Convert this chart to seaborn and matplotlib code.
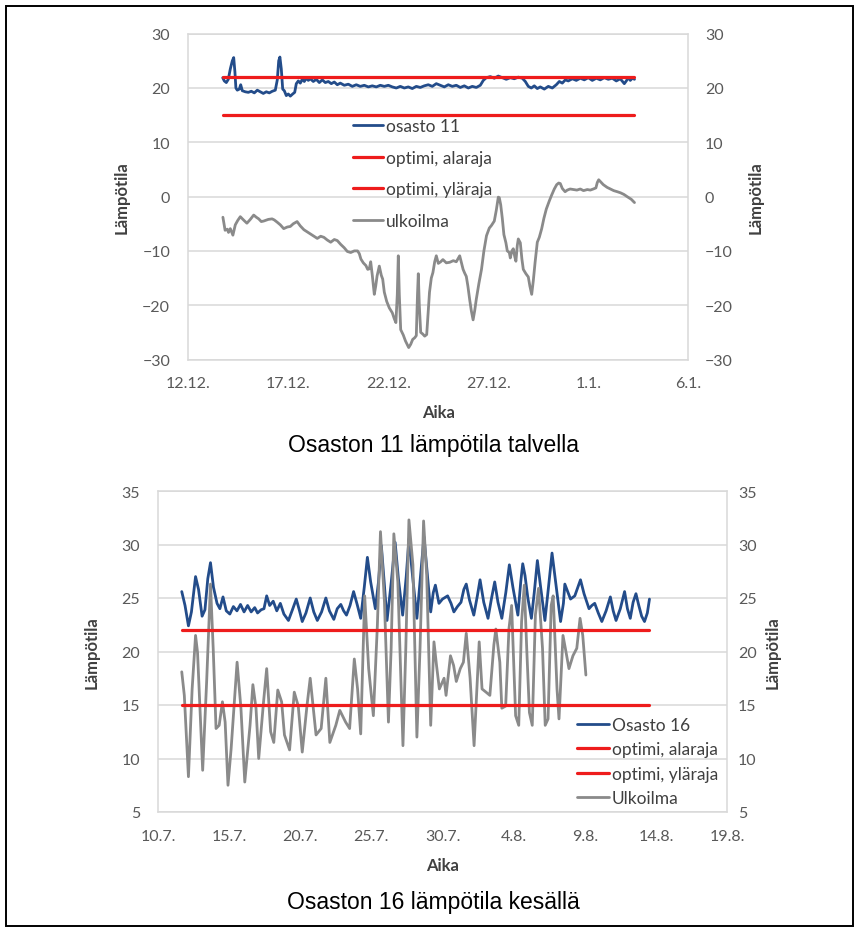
import numpy as np
import pandas as pd
import matplotlib
matplotlib.use("Agg")
import matplotlib.pyplot as plt
import seaborn as sns
from matplotlib.patches import Rectangle

# ---------------- Winter chart (x = days since 12.12.) ----------------
w_xticks = [0, 5, 10, 15, 20, 25]
w_xticklabels = ["12.12.", "17.12.", "22.12.", "27.12.", "1.1.", "6.1."]
w_yticks = [-30, -20, -10, 0, 10, 20, 30]

w_in_day = [1.72, 1.80, 1.90, 2.00, 2.10, 2.20, 2.27, 2.33, 2.38, 2.45, 2.55, 2.62, 2.70, 2.85,
            3.00, 3.15, 3.30, 3.45, 3.60, 3.75, 3.90, 4.05, 4.20, 4.35, 4.45, 4.52, 4.58, 4.65,
            4.72, 4.80, 4.90, 5.00, 5.10, 5.22, 5.32, 5.40, 5.50, 5.60, 5.70, 5.80, 5.90, 6.00,
            6.10, 6.25, 6.40, 6.55, 6.70, 6.85, 7.00, 7.15, 7.30, 7.45, 7.60, 7.80, 8.00, 8.20,
            8.40, 8.60, 8.80, 9.00, 9.20, 9.40, 9.60, 9.80, 10.00, 10.20, 10.40, 10.60, 10.80,
            11.00, 11.20, 11.40, 11.60, 11.80, 12.00, 12.20, 12.40, 12.60, 12.80, 13.00, 13.20,
            13.40, 13.60, 13.80, 14.00, 14.20, 14.40, 14.60, 14.75, 14.90, 15.10, 15.30, 15.50,
            15.70, 15.90, 16.10, 16.30, 16.50, 16.70, 16.85, 17.00, 17.15, 17.30, 17.45, 17.60,
            17.80, 18.00, 18.20, 18.40, 18.55, 18.70, 18.85, 19.00, 19.20, 19.40, 19.60, 19.80,
            20.00, 20.20, 20.40, 20.60, 20.80, 21.00, 21.20, 21.40, 21.60, 21.80, 21.90, 22.00,
            22.10, 22.20, 22.31]
w_in_temp = [21.9, 21.3, 21.0, 21.6, 23.5, 25.0, 25.6, 23.0, 20.0, 19.6, 19.8, 20.6, 19.5, 19.3,
             19.2, 19.4, 19.1, 19.6, 19.3, 19.0, 19.3, 19.1, 19.4, 19.6, 21.5, 25.0, 25.7, 23.5,
             19.8, 19.5, 18.6, 18.9, 18.5, 18.9, 19.2, 20.8, 21.3, 20.9, 21.6, 21.2, 21.8, 21.4,
             21.7, 21.2, 21.6, 21.0, 21.5, 21.0, 21.2, 20.8, 21.1, 20.6, 20.9, 20.5, 20.7, 20.3,
             20.6, 20.3, 20.5, 20.2, 20.4, 20.2, 20.5, 20.3, 20.5, 20.2, 20.0, 20.3, 20.0,
             20.2, 19.9, 20.3, 20.1, 20.4, 20.6, 20.3, 20.8, 20.5, 20.2, 20.6, 20.3,
             20.5, 20.1, 20.4, 20.0, 20.3, 20.1, 20.5, 21.4, 21.9, 22.1, 21.8, 22.2,
             21.9, 21.6, 21.9, 21.7, 22.0, 21.8, 21.2, 20.3, 20.0, 20.4, 19.9, 20.2,
             19.8, 20.3, 20.0, 20.6, 21.2, 20.9, 21.5, 21.3, 21.7, 21.4, 21.8, 21.5,
             21.9, 21.4, 21.8, 21.5, 21.9, 21.6, 21.8, 21.3, 21.7, 20.8, 21.3, 21.9,
             21.4, 21.8, 21.6]

w_out_day = [1.73, 1.84, 1.95, 2.01, 2.10, 2.23, 2.35, 2.47, 2.60, 2.76, 2.93, 3.10, 3.27, 3.40,
             3.52, 3.65, 3.77, 4.00, 4.19, 4.30, 4.44, 4.60, 4.77, 4.95, 5.10, 5.25, 5.44, 5.60,
             5.78, 5.95, 6.11, 6.30, 6.45, 6.62, 6.78, 6.95, 7.12, 7.30, 7.45, 7.62, 7.79, 7.95,
             8.12, 8.30, 8.46, 8.55, 8.63, 8.75, 8.88, 8.97, 9.05, 9.12, 9.20, 9.30, 9.37, 9.44,
             9.55, 9.65, 9.72, 9.80, 9.92, 10.05, 10.20, 10.30, 10.38, 10.45, 10.50, 10.55, 10.62,
             10.75, 10.86, 10.95, 11.02, 11.12, 11.22, 11.32, 11.40, 11.46, 11.50, 11.55, 11.62,
             11.72, 11.82, 11.92, 12.00, 12.06, 12.15, 12.23, 12.32, 12.40, 12.50, 12.62, 12.73,
             12.90, 13.07, 13.25, 13.40, 13.57, 13.66, 13.74, 13.82, 13.90, 13.98, 14.07, 14.15,
             14.24, 14.32, 14.40, 14.53, 14.66, 14.78, 14.91, 15.05, 15.16, 15.30, 15.40, 15.50,
             15.55, 15.62, 15.70, 15.78, 15.88, 15.95, 16.05, 16.10, 16.18, 16.25, 16.32, 16.38,
             16.45, 16.50, 16.60, 16.68, 16.75, 16.88, 17.00, 17.08, 17.17, 17.25, 17.34, 17.45,
             17.55, 17.67, 17.78, 17.90, 18.05, 18.17, 18.30, 18.42, 18.52, 18.60, 18.70, 18.84,
             18.95, 19.09, 19.25, 19.43, 19.60, 19.76, 19.95, 20.10, 20.25, 20.38, 20.45, 20.52,
             20.62, 20.75, 20.94, 21.10, 21.27, 21.45, 21.61, 21.78, 21.94, 22.15, 22.31]
w_out_temp = [-3.8, -6.2, -6.0, -6.6, -5.9, -7.1, -5.2, -4.4, -3.7, -4.3, -4.9, -4.2, -3.4, -3.8,
              -4.1, -4.6, -4.5, -4.2, -4.1, -4.3, -4.7, -5.2, -5.9, -5.6, -5.5, -5.0, -4.6, -5.4,
              -6.1, -6.5, -6.9, -7.3, -7.7, -7.3, -7.5, -8.0, -8.4, -7.9, -8.1, -8.8, -9.4, -10.1,
              -10.3, -10.0, -10.0, -10.5, -11.5, -12.2, -12.7, -13.4, -13.3, -12.0, -14.5, -18.0, -16.5, -14.6,
              -12.8, -14.5, -15.2, -17.6, -19.3, -20.5, -21.4, -22.5, -23.2, -18.0, -10.9, -18.0, -24.5,
              -25.5, -26.6, -27.3, -27.8, -27.2, -26.3, -26.0, -25.6, -18.0, -14.2, -20.0, -25.0,
              -25.3, -25.7, -25.4, -21.0, -17.6, -15.0, -14.0, -12.0, -10.9, -12.3, -12.0, -11.6,
              -12.2, -12.1, -11.8, -12.0, -10.9, -12.2, -13.4, -14.1, -14.7, -16.5, -19.0, -21.0,
              -22.7, -21.0, -18.9, -16.0, -13.4, -10.0, -7.2, -5.8, -5.3, -4.5, -2.5, -0.1,
              -0.2, -1.5, -4.0, -7.0, -8.5, -10.0, -10.3, -11.3, -10.0, -9.6, -11.0, -11.9,
              -9.0, -7.8, -8.5, -11.5, -13.4, -14.2, -14.8, -16.5, -18.0, -15.5, -12.1, -8.4,
              -7.5, -5.9, -4.0, -2.3, -0.8, 0.3, 1.4, 2.2, 2.5, 2.4, 1.5, 0.9,
              1.2, 1.4, 1.3, 1.2, 1.4, 1.1, 1.3, 1.2, 1.4, 1.6, 2.6, 3.1,
              2.7, 2.2, 1.7, 1.4, 1.1, 0.9, 0.7, 0.4, 0.0, -0.5, -1.1]

w_limit_days = [1.72, 22.31]

# ---------------- Summer chart (x = days since 10.7.) ----------------
s_xticks = [0, 5, 10, 15, 20, 25, 30, 35, 40]
s_xticklabels = ["10.7.", "15.7.", "20.7.", "25.7.", "30.7.", "4.8.", "9.8.", "14.8.", "19.8."]
s_yticks = [5, 10, 15, 20, 25, 30, 35]

s_in_day = [1.67, 1.90, 2.14, 2.35, 2.64, 2.85, 3.10, 3.30, 3.50, 3.69, 3.90, 4.15, 4.35, 4.57,
            4.80, 5.05, 5.30, 5.55, 5.80, 6.05, 6.30, 6.55, 6.80, 7.00, 7.25, 7.45, 7.64, 7.85,
            8.10, 8.35, 8.60, 8.85, 9.17, 9.45, 9.72, 9.95, 10.14, 10.40, 10.70, 10.95, 11.20,
            11.50, 11.80, 12.05, 12.36, 12.60, 12.85, 13.05, 13.25, 13.50, 13.75, 14.00, 14.25,
            14.50, 14.72, 14.95, 15.28, 15.50, 15.70, 15.90, 16.10, 16.40, 16.67, 16.90, 17.20,
            17.45, 17.64, 17.90, 18.20, 18.45, 18.70, 18.95, 19.17, 19.35, 19.50, 19.75, 20.00,
            20.36, 20.60, 20.80, 21.05, 21.30, 21.50, 21.67, 21.90, 22.20, 22.45, 22.64, 22.90,
            23.20, 23.45, 23.67, 23.90, 24.17, 24.45, 24.70, 24.95, 25.30, 25.50, 25.64, 25.80,
            26.00, 26.25, 26.45, 26.67, 26.90, 27.20, 27.45, 27.70, 27.95, 28.30, 28.50, 28.60,
            28.80, 29.00, 29.30, 29.70, 29.95, 30.30, 30.50, 30.70, 30.95, 31.20, 31.50, 31.80,
            32.00, 32.20, 32.50, 32.80, 33.00, 33.20, 33.40, 33.60, 33.80, 34.00, 34.20, 34.40,
            34.55]
s_in_temp = [25.6, 24.3, 22.4, 23.7, 27.0, 25.8, 23.3, 23.9, 26.8, 28.3, 26.0, 24.5, 24.0, 25.1,
             23.8, 23.5, 24.2, 23.8, 24.4, 23.7, 24.3, 23.7, 24.1, 23.6, 23.9, 24.0, 25.2, 24.3,
             24.7, 23.8, 24.5, 23.5, 22.9, 23.9, 24.9, 23.8, 22.8, 23.6, 25.0, 23.7, 22.9,
             23.7, 25.0, 23.8, 23.0, 24.0, 24.4, 23.8, 23.4, 24.3, 25.6, 24.4, 23.1,
             26.0, 28.8, 26.5, 24.0, 26.5, 29.9, 26.5, 22.9, 26.5, 30.2, 26.8, 23.4,
             27.0, 30.5, 27.0, 23.1, 27.0, 30.7, 27.0, 23.7, 25.5, 26.2, 24.5, 24.9,
             25.2, 24.5, 23.7, 24.2, 24.6, 25.8, 26.3, 24.8, 23.4, 25.2, 26.7, 24.6,
             23.1, 25.0, 26.5, 24.6, 23.1, 25.5, 28.1, 26.0, 23.4, 26.5, 28.2, 27.1,
             25.0, 23.1, 25.5, 28.5, 26.0, 22.9, 26.0, 29.2, 26.5, 22.8, 24.5, 26.3,
             25.6, 24.9, 25.2, 26.7, 25.4, 24.0, 24.3, 24.5, 23.6, 22.8, 23.8, 25.1,
             23.8, 22.9, 24.0, 25.6, 24.0, 23.1, 24.6, 25.4, 24.3, 23.3, 22.8, 23.6,
             24.9]

s_out_day = [1.67, 1.85, 2.14, 2.40, 2.64, 2.78, 2.92, 3.14, 3.42, 3.69, 3.88, 4.08, 4.30, 4.53,
             4.72, 4.92, 5.14, 5.56, 5.83, 6.10, 6.47, 6.67, 6.89, 7.08, 7.42, 7.64, 7.92, 8.14,
             8.42, 8.69, 8.89, 9.25, 9.58, 9.86, 10.14, 10.47, 10.70, 11.11, 11.47, 11.80, 12.08,
             12.50, 12.78, 13.19, 13.47, 13.80, 14.03, 14.25, 14.53, 14.81, 15.14, 15.42, 15.64,
             15.92, 16.20, 16.39, 16.58, 16.86, 17.22, 17.42, 17.64, 17.92, 18.20, 18.42, 18.67,
             18.89, 19.17, 19.40, 19.58, 19.78, 20.11, 20.25, 20.56, 20.78, 20.97, 21.25, 21.47,
             21.67, 21.94, 22.22, 22.58, 22.78, 23.06, 23.33, 23.61, 23.75, 24.03, 24.17, 24.44,
             24.67, 24.86, 25.14, 25.36, 25.56, 25.75, 25.92, 26.11, 26.31, 26.53, 26.75, 27.03,
             27.22, 27.42, 27.64, 27.78, 28.05, 28.19, 28.47, 28.69, 28.89, 29.17, 29.44, 29.67,
             29.86, 30.08]
s_out_temp = [18.1, 15.9, 8.3, 16.5, 21.5, 19.9, 15.6, 8.9, 17.2, 26.3, 20.3, 12.8, 13.1, 15.3,
              13.4, 7.5, 10.9, 19.0, 14.7, 7.8, 13.1, 16.9, 14.7, 10.0, 15.3, 18.4, 12.5, 11.5,
              16.4, 15.3, 12.2, 10.8, 16.2, 14.9, 10.6, 14.9, 17.5, 12.2, 12.8, 17.5, 11.5,
              13.1, 14.5, 13.4, 12.8, 19.3, 16.5, 12.3, 25.2, 18.4, 14.0, 22.4, 31.2,
              24.6, 13.4, 20.3, 31.0, 26.5, 11.2, 20.3, 32.3, 28.1, 12.0, 20.3, 32.2,
              27.1, 13.1, 20.9, 18.7, 16.5, 17.5, 15.9, 19.6, 18.7, 17.2, 18.4, 19.0,
              21.7, 17.5, 11.2, 20.9, 16.5, 16.2, 15.9, 20.6, 22.1, 19.0, 14.7, 14.9,
              22.1, 24.3, 14.0, 13.1, 22.8, 26.2, 20.3, 14.3, 13.1, 23.4, 25.9, 20.3,
              13.1, 13.7, 24.3, 25.2, 16.5, 13.7, 21.5, 19.9, 18.4, 19.6, 20.3, 23.1,
              21.5, 17.8]

s_limit_days = [1.67, 34.55]

limit_low = 15    # optimi, alaraja
limit_high = 22   # optimi, yläraja

# ---------------- style ----------------
BLUE = "#234C8A"
RED = "#EE1C1C"
GRAY = "#8A8A8A"
GRID = "#D9D9D9"
TICKC = "#595959"
TEXTC = "#404040"

sns.set_theme(style="white")
plt.rcParams["font.family"] = ["Lato", "DejaVu Sans"]

W, H = 867, 929
fig = plt.figure(figsize=(W / 100, H / 100), dpi=100)


def px_axes(x0, x1, y0, y1):
    return fig.add_axes([x0 / W, 1 - y1 / H, (x1 - x0) / W, (y1 - y0) / H])


def draw_chart(ax, in_day, in_temp, in_label, out_day, out_temp, out_label, lim_days,
               xticks, xticklabels, yticks, xlim, ylim):
    df_in = pd.DataFrame({"day": in_day, "temp": in_temp})
    df_out = pd.DataFrame({"day": out_day, "temp": out_temp})
    df_low = pd.DataFrame({"day": lim_days, "temp": [limit_low] * len(lim_days)})
    df_high = pd.DataFrame({"day": lim_days, "temp": [limit_high] * len(lim_days)})

    sns.lineplot(data=df_in, x="day", y="temp", ax=ax, color=BLUE, linewidth=2.0,
                 label=in_label, zorder=3, legend=False)
    sns.lineplot(data=df_low, x="day", y="temp", ax=ax, color=RED, linewidth=2.3,
                 label="optimi, alaraja", zorder=5, legend=False)
    sns.lineplot(data=df_high, x="day", y="temp", ax=ax, color=RED, linewidth=2.3,
                 label="optimi, yläraja", zorder=5, legend=False)
    sns.lineplot(data=df_out, x="day", y="temp", ax=ax, color=GRAY, linewidth=2.0,
                 label=out_label, zorder=4, legend=False)

    ax.set_xlim(*xlim)
    ax.set_ylim(*ylim)
    ax.set_xticks(xticks)
    ax.set_xticklabels(xticklabels)
    ax.set_yticks(yticks)
    ax.grid(axis="y", color=GRID, linewidth=1.1, zorder=0)
    ax.grid(axis="x", visible=False)
    for s in ax.spines.values():
        s.set_color(GRID)
        s.set_linewidth(1.1)
    ax.tick_params(length=0, labelsize=11.5, labelcolor=TICKC)
    ax.set_facecolor("white")

    ax2 = ax.twinx()
    ax2.set_ylim(*ylim)
    ax2.set_yticks(yticks)
    ax2.tick_params(length=0, labelsize=11.5, labelcolor=TICKC)
    for s in ax2.spines.values():
        s.set_visible(False)
    return ax2


def place_legend(ax, x_px, first_px, spacing_px, fontsize, handlelength):
    """Frameless legend whose rows are centred at first_px, first_px + spacing_px, ..."""
    h, l = ax.get_legend_handles_labels()
    fs_px = fontsize * 100 / 72
    ls = 0.5
    top = first_px - 10
    for _ in range(4):
        leg = ax.legend(h, l, loc="upper left", bbox_to_anchor=(x_px / W, 1 - top / H),
                        bbox_transform=fig.transFigure, frameon=False, fontsize=fontsize,
                        labelspacing=ls, handlelength=handlelength, handletextpad=0.15,
                        borderpad=0, borderaxespad=0, labelcolor=TEXTC)
        fig.canvas.draw()
        cy = [H - 0.5 * (t.get_window_extent().y0 + t.get_window_extent().y1)
              for t in leg.get_texts()]
        meas = (cy[-1] - cy[0]) / (len(cy) - 1)
        ls += (spacing_px - meas) / fs_px
        top += first_px - cy[0]
    return leg


# ---------- top chart ----------
ax_w = px_axes(188.3, 688.3, 34.7, 360.5)
ax_w2 = draw_chart(ax_w, w_in_day, w_in_temp, "osasto 11", w_out_day, w_out_temp, "ulkoilma",
                   w_limit_days, w_xticks, w_xticklabels, w_yticks, (0, 25), (-30, 30))
ax_w.tick_params(axis="y", pad=13)
ax_w.tick_params(axis="x", pad=12)
ax_w2.tick_params(axis="y", pad=12)
ax_w.set_xlabel("Aika", fontsize=12, fontweight="bold", color=TEXTC)
ax_w.set_ylabel("Lämpötila", fontsize=12, fontweight="bold", color=TEXTC)
ax_w2.set_ylabel("Lämpötila", fontsize=12, fontweight="bold", color=TEXTC, rotation=90)
ax_w.xaxis.set_label_coords(0.5, -0.136)
ax_w.yaxis.set_label_coords(-0.117, 0.5)
ax_w2.yaxis.set_label_coords(1.119, 0.5)

# ---------- bottom chart ----------
ax_s = px_axes(158, 727, 492, 813)
ax_s2 = draw_chart(ax_s, s_in_day, s_in_temp, "Osasto 16", s_out_day, s_out_temp, "Ulkoilma",
                   s_limit_days, s_xticks, s_xticklabels, s_yticks, (0, 40), (5, 35))
ax_s.tick_params(axis="y", pad=13)
ax_s.tick_params(axis="x", pad=12)
ax_s2.tick_params(axis="y", pad=8)
ax_s.set_xlabel("Aika", fontsize=12, fontweight="bold", color=TEXTC)
ax_s.set_ylabel("Lämpötila", fontsize=12, fontweight="bold", color=TEXTC)
ax_s2.set_ylabel("Lämpötila", fontsize=12, fontweight="bold", color=TEXTC, rotation=90)
ax_s.xaxis.set_label_coords(0.5, -0.14)
ax_s.yaxis.set_label_coords(-0.102, 0.5)
ax_s2.yaxis.set_label_coords(1.066, 0.5)

# ---------- captions & frame ----------
fig.text(433 / W, 1 - 446 / H, "Osaston 11 lämpötila talvella", ha="center", va="center",
         fontsize=16.5, family=["Liberation Sans", "DejaVu Sans"], color="black")
fig.text(433 / W, 1 - 903 / H, "Osaston 16 lämpötila kesällä", ha="center", va="center",
         fontsize=16.5, family=["Liberation Sans", "DejaVu Sans"], color="black")
fig.patches.append(Rectangle((6 / W, 1 - 927 / H), (853 - 6) / W, (927 - 7) / H,
                             transform=fig.transFigure, fill=False, edgecolor="black",
                             linewidth=1.4))

# ---------- legends ----------
place_legend(ax_w, 353, 127, 31.7, 12.5, 1.75)
place_legend(ax_s, 577, 726, 24.3, 12.5, 1.85)

fig.savefig("out.png", dpi=100, facecolor="white")
